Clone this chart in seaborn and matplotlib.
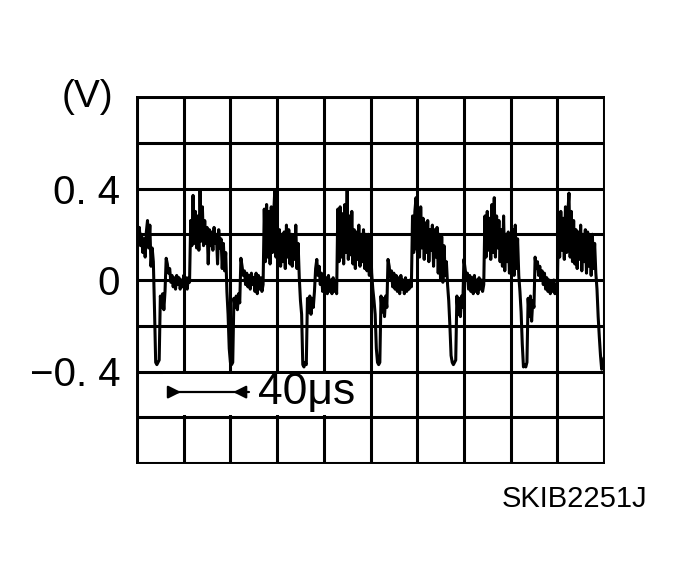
import numpy as np
import pandas as pd
import matplotlib
matplotlib.use("Agg")
import matplotlib.pyplot as plt
import seaborn as sns

# ---- data ----
SAMPLE_US = 1.0          # one sample per microsecond
volts = [
    # cycle 1
    0.22, 0.16, 0.23, 0.15, 0.20, 0.12, 0.18, 0.10, 0.21, 0.26, 0.14, 0.24, 0.06, 0.14, 0.08,
    -0.13,
    -0.36, -0.37, -0.36, -0.35,
    -0.07,
    -0.12, -0.06, -0.13, -0.05,
    0.095,
    0.07, 0.03, 0.05, -0.01,
    0.02, -0.03, 0.01, -0.04, 0.02, -0.02, 0.01, -0.04, 0.00, -0.03, 0.02, -0.02, 0.01, -0.04, 0.01, -0.01,
    # cycle 2
    0.26,
    0.15, 0.37, 0.16, 0.30, 0.14, 0.28, 0.13, 0.39, 0.17, 0.32, 0.15, 0.26,
    0.16, 0.23, 0.07, 0.22, 0.15, 0.21, 0.13, 0.23, 0.16, 0.20, 0.07, 0.22, 0.14,
    0.18, 0.05, 0.16, 0.04, 0.12,
    -0.05, -0.15, -0.30,
    -0.36, -0.37, -0.36,
    -0.08,
    -0.12, -0.07, -0.13, -0.06, -0.10,
    0.095,
    0.06, 0.02, 0.04, -0.02, 0.03, -0.03, 0.02, -0.04, 0.03, -0.02, 0.01, -0.05, 0.03, -0.06, 0.02, -0.04, 0.01, -0.05, -0.02,
    # cycle 3
    0.31,
    0.08, 0.33, 0.10, 0.30, 0.07, 0.32, 0.12, 0.28, 0.39, 0.10, 0.30, 0.09,
    0.22, 0.06, 0.20, 0.08, 0.21, 0.05, 0.24, 0.10, 0.22, 0.07, 0.20, 0.06, 0.19, 0.09, 0.24, 0.05, 0.16,
    0.01, -0.09, -0.15,
    -0.37, -0.38, -0.36, -0.37,
    -0.08,
    -0.14, -0.07, -0.15, -0.08, -0.12, -0.05,
    0.05, 0.09,
    0.02, 0.06, -0.02, 0.03, -0.05, 0.02, -0.04, 0.01, -0.06, 0.02, -0.05, 0.00, -0.06, 0.01, -0.05, -0.01, -0.06,
    # cycle 4
    0.31,
    0.08, 0.32, 0.10, 0.29, 0.07, 0.33, 0.12, 0.39, 0.09, 0.28, 0.11, 0.30,
    0.07, 0.22, 0.05, 0.21, 0.09, 0.24, 0.06, 0.20, 0.08, 0.22, 0.05, 0.20, 0.04, 0.20, 0.02, 0.18, 0.03,
    -0.04, -0.09, -0.15, -0.30,
    -0.36, -0.37, -0.36,
    -0.07,
    -0.14, -0.08, -0.16, -0.07, -0.12,
    0.09,
    0.06, 0.01, 0.04, -0.03, 0.03, -0.04, 0.02, -0.05, 0.01, -0.06, 0.02, -0.04, 0.00, -0.06, 0.01, -0.05, -0.01, -0.04, 0.00, -0.03,
    # cycle 5
    0.28,
    0.12, 0.30, 0.36, 0.13, 0.29, 0.10, 0.32, 0.14, 0.27, 0.09, 0.25, 0.12, 0.26, 0.08, 0.22, 0.13, 0.24, 0.06, 0.22,
    0.10, 0.23, 0.03, 0.20, 0.00, 0.19, -0.01, 0.15, 0.02, 0.08,
    -0.02, -0.09, -0.20, -0.33,
    -0.36, -0.37, -0.36, -0.35,
    -0.07,
    -0.15, -0.08, -0.16, -0.07, -0.12,
    0.09,
    0.05, 0.01, 0.03, -0.04, 0.02, -0.05, 0.01, -0.06, 0.02, -0.05, 0.00, -0.06, 0.01, -0.04, 0.00, -0.05, -0.02,
    # cycle 6
    0.28,
    0.10, 0.30, 0.13, 0.27, 0.09, 0.33, 0.12, 0.36, 0.10, 0.28, 0.14, 0.26, 0.08,
    0.22, 0.06, 0.28, 0.04, 0.20, 0.08, 0.21, 0.03, 0.19, 0.06, 0.22, 0.02, 0.24, 0.05, 0.18, 0.02,
    -0.05, -0.14, -0.28,
    -0.38, -0.37, -0.38, -0.36,
    -0.08,
    -0.16, -0.07, -0.18, -0.09, -0.12,
    0.10,
    0.05, 0.08, 0.02, 0.06, 0.00, 0.04, -0.02, 0.03, -0.04, 0.01, -0.05, 0.00, -0.06, -0.01, -0.05, 0.00, -0.06, -0.02, -0.05,
    # cycle 7
    0.28,
    0.10, 0.30, 0.13, 0.27, 0.09, 0.32, 0.12, 0.29, 0.38, 0.10, 0.30, 0.08, 0.26,
    0.07, 0.22, 0.05, 0.21, 0.09, 0.24, 0.04, 0.20, 0.08, 0.22, 0.03, 0.21, 0.06, 0.19, 0.02, 0.20, 0.05, 0.16, 0.03,
    -0.04, -0.16, -0.25, -0.33,
    -0.39, -0.38, -0.34,
]
y_tick_values = [-0.4, 0.0, 0.4]
y_tick_labels = ["\u22120. 4", "0", "0. 4"]
unit_label = "(V)"
scale_label = "40\u03bcs"
scale_span_us = [40, 80]
figure_code = "SKIB2251J"

df = pd.DataFrame({"t": np.arange(len(volts)) * SAMPLE_US, "v": volts})

sns.set_style("white")
plt.rcParams["font.family"] = ["Liberation Sans Narrow", "Liberation Sans", "DejaVu Sans"]
plt.rcParams["text.color"] = "black"
plt.rcParams["ytick.color"] = "black"
plt.rcParams["xtick.color"] = "black"

fig = plt.figure(figsize=(6.81, 5.86), dpi=100)
ax = fig.add_axes([137 / 681, 1 - 463 / 586, (604 - 137) / 681, (463 - 97) / 586])

sns.lineplot(data=df, x="t", y="v", ax=ax, color="black", linewidth=2.2, zorder=5)

ax.set_xlim(0, 400)
ax.set_ylim(-0.8, 0.8)
ax.set_xticks(np.arange(0, 401, 40))
ax.set_yticks(np.round(np.arange(-0.8, 0.81, 0.2), 2))
ax.set_xticklabels([])
ylabels = []
for v in ax.get_yticks():
    lab = ""
    for tv, tl in zip(y_tick_values, y_tick_labels):
        if abs(v - tv) < 1e-6:
            lab = tl
    ylabels.append(lab)
ax.set_yticklabels(ylabels, fontsize=29, color="black")
ax.tick_params(axis="both", length=0, pad=12)
ax.grid(True, color="black", linewidth=2.2, zorder=1)
ax.set_axisbelow(True)
for s in ax.spines.values():
    s.set_color("black")
    s.set_linewidth(1.4)
ax.set_xlabel("")
ax.set_ylabel("")

# unit label
ax.text(-0.05, 1.0, unit_label, transform=ax.transAxes, ha="right", va="center",
        fontsize=28, color="black")

# white patch behind scale annotation (hides vertical grid lines)
ax.add_patch(plt.Rectangle((22, -0.59), 176, 0.18, facecolor="white", edgecolor="none", zorder=2))

# 40 us scale marker: arrows pointing inward from outside
ya = -0.49
ax.plot([27, 96], [ya, ya], color="black", linewidth=1.6, zorder=3)
ax.annotate("", xy=(scale_span_us[0], ya), xytext=(27, ya),
            arrowprops=dict(arrowstyle="-|>", color="black", lw=1.6, mutation_scale=19), zorder=3)
ax.annotate("", xy=(scale_span_us[1], ya), xytext=(96, ya),
            arrowprops=dict(arrowstyle="-|>", color="black", lw=1.6, mutation_scale=19), zorder=3)
ax.text(104, ya, scale_label, ha="left", va="center", fontsize=32, color="black", zorder=4)

fig.text(647 / 681, 1 - 499 / 586, figure_code, ha="right", va="center", fontsize=21,
         color="black", family=["Liberation Sans", "DejaVu Sans"])

fig.savefig("out.png", dpi=100, facecolor="white")
